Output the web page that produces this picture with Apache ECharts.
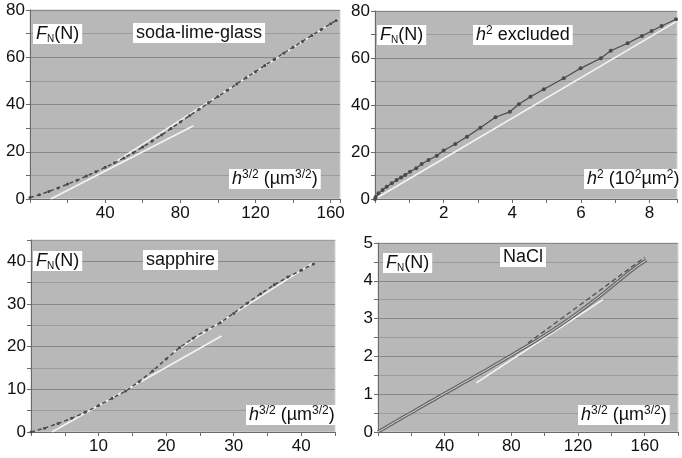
<!DOCTYPE html>
<html>
<head>
<meta charset="utf-8">
<script src="https://cdn.jsdelivr.net/npm/echarts@6/dist/echarts.min.js"></script>
<style>
  html, body { margin: 0; padding: 0; background: #fff; }
  #chart { width: 682px; height: 458px; }
</style>
</head>
<body>
<div id="chart"></div>
<script>
// soda-lime-glass, F_N against h^(3/2)
const glassH = [0, 5, 10, 15, 20, 25, 30, 35, 40, 45, 50, 55, 60, 65, 70, 75, 80, 85, 90, 95, 100, 105, 110, 115, 120, 125, 130, 135, 140, 145, 150, 155, 160, 163];
const glassF = [0.6, 1.8, 3.2, 4.7, 6.3, 7.9, 9.7, 11.5, 13.4, 15.3, 17.4, 19.6, 22.0, 24.5, 27.1, 29.8, 32.6, 35.3, 38.0, 40.7, 43.4, 46.0, 48.7, 51.3, 53.9, 56.5, 59.1, 61.7, 64.2, 66.7, 69.2, 71.7, 74.2, 75.6];
const glassFitLow = [[11, 0], [87, 31]];
const glassFitHigh = [[45, 15.5], [164, 76.2]];

// h^2 excluded, F_N against h^2
const exclH2 = [0, 0.02, 0.1, 0.22, 0.34, 0.49, 0.63, 0.76, 0.88, 1.02, 1.2, 1.36, 1.56, 1.8, 2.0, 2.34, 2.68, 3.07, 3.51, 3.93, 4.19, 4.53, 4.92, 5.5, 5.99, 6.58, 6.87, 7.36, 7.78, 8.06, 8.35, 8.77];
const exclF = [0, 0.8, 2.4, 3.8, 5.2, 6.7, 8.1, 9.2, 10.2, 11.6, 13.1, 14.9, 16.6, 18.4, 20.6, 23.4, 26.5, 30.3, 34.8, 37.1, 40.3, 43.5, 46.7, 51.4, 55.6, 59.9, 63.1, 66.3, 69.4, 71.5, 73.6, 76.5];
const exclFit = [[0, 0], [8.8, 75.7]];

// sapphire
const sapphH = [0, 2, 4, 6, 8, 10, 12, 14, 16, 18, 20, 22, 24, 26, 28, 30, 32, 34, 36, 38, 40, 41.8];
const sapphF = [0, 0.9, 2.0, 3.2, 4.6, 6.2, 7.9, 9.6, 11.8, 14.3, 17.1, 19.8, 22.0, 23.9, 25.6, 27.8, 30.2, 32.4, 34.5, 36.3, 37.9, 39.4];
const sapphFitLow = [[3.1, 0], [28.2, 22.5]];
const sapphFitHigh = [[21, 18.6], [41.8, 39.7]];

// NaCl
const naclH = [0, 5, 10, 15, 20, 25, 30, 35, 40, 45, 50, 55, 60, 65, 70, 75, 80, 85, 90, 95, 100, 105, 110, 115, 120, 125, 130, 135, 140, 145, 150, 155, 161];
const naclF = [0, 0.13, 0.26, 0.39, 0.51, 0.64, 0.77, 0.89, 1.02, 1.14, 1.27, 1.39, 1.52, 1.64, 1.77, 1.9, 2.03, 2.16, 2.29, 2.42, 2.56, 2.7, 2.85, 3.0, 3.16, 3.32, 3.49, 3.66, 3.84, 4.02, 4.2, 4.37, 4.55];
const naclFitLow = [[59, 1.3], [135, 3.5]];
const naclFitHigh = [[90, 2.35], [160, 4.62]];

const FONT = 'Liberation Sans, Arial, sans-serif';
const AXIS = '#6a6a6a';

const zip = (xs, ys) => xs.map((x, i) => [x, ys[i]]);
const isStep = (v, step) => Math.abs(v / step - Math.round(v / step)) < 1e-6;

function xAxis(idx, max, interval, labelStep) {
  return {
    type: 'value', gridIndex: idx, min: 0, max: max, interval: interval,
    axisLine: { show: true, onZero: false, lineStyle: { color: AXIS } },
    axisTick: { show: true, length: 4, lineStyle: { color: AXIS } },
    axisLabel: {
      color: '#111', fontSize: 17, fontFamily: FONT, margin: 6,
      formatter: v => (v > 0 && isStep(v, labelStep)) ? String(v) : ''
    },
    splitLine: { show: false }
  };
}

function yAxis(idx, max, interval, labelStep) {
  return {
    type: 'value', gridIndex: idx, min: 0, max: max, interval: interval,
    axisLine: { show: true, lineStyle: { color: AXIS } },
    axisTick: { show: true, length: 4, lineStyle: { color: AXIS } },
    axisLabel: {
      color: '#111', fontSize: 17, fontFamily: FONT, margin: 5,
      formatter: v => isStep(v, labelStep) ? String(v) : ''
    },
    splitLine: { show: true, lineStyle: { color: ['#888888', '#9c9c9c'], width: 1 } }
  };
}

function fit(idx, data, color, dashed) {
  return {
    type: 'line', xAxisIndex: idx, yAxisIndex: idx, data: data,
    symbol: 'none', silent: true,
    lineStyle: { color: color, width: 1.5, type: dashed ? [5, 3] : 'solid' }
  };
}

function points(idx, data, opts) {
  return Object.assign({
    type: 'line', xAxisIndex: idx, yAxisIndex: idx, data: data,
    symbol: 'circle', symbolSize: 3,
    itemStyle: { color: '#4a4a4a' },
    lineStyle: { color: '#4a4a4a', width: 1.5, type: [4, 3] }
  }, opts || {});
}

const rich = {
  i: { fontStyle: 'italic', fontSize: 18, fontFamily: FONT, lineHeight: 20 },
  s: { fontSize: 10, fontFamily: FONT, lineHeight: 11, verticalAlign: 'bottom' },
  p: { fontSize: 12, fontFamily: FONT, lineHeight: 12, verticalAlign: 'top' }
};

function label(left, top, text) {
  return {
    type: 'text', left: left, top: top, z: 100,
    style: {
      text: text, rich: rich, fontSize: 18, fontFamily: FONT, lineHeight: 20,
      fill: '#111', backgroundColor: '#fff', padding: [0, 3]
    }
  };
}

const option = {
  animation: false,
  backgroundColor: '#fff',
  grid: [
    { left: 30, top: 10, width: 310, height: 189 },
    { left: 375, top: 11, width: 302, height: 188 },
    { left: 31, top: 240, width: 304, height: 192 },
    { left: 378, top: 243, width: 300, height: 189 }
  ].map(g => Object.assign(g, { show: true, backgroundColor: '#b8b8b8', borderColor: '#d4d4d4', borderWidth: 1 })),
  xAxis: [
    xAxis(0, 165, 20, 40),
    xAxis(1, 8.8, 1, 2),
    xAxis(2, 45, 5, 10),
    xAxis(3, 180, 20, 40)
  ],
  yAxis: [
    yAxis(0, 80, 10, 20),
    yAxis(1, 80, 10, 20),
    yAxis(2, 45, 5, 10),
    yAxis(3, 5, 0.5, 1)
  ],
  series: [
    fit(0, glassFitLow, '#f4f4f4'),
    fit(0, glassFitHigh, '#f4f4f4'),
    points(0, zip(glassH, glassF)),

    fit(1, exclFit, '#f4f4f4'),
    points(1, zip(exclH2, exclF), { symbolSize: 4, lineStyle: { color: '#4a4a4a', width: 1.2 } }),

    fit(2, sapphFitLow, '#f4f4f4'),
    fit(2, sapphFitHigh, '#f4f4f4'),
    points(2, zip(sapphH, sapphF)),

    fit(3, naclFitLow, '#f4f4f4'),
    points(3, zip(naclH, naclF), { symbol: 'none', lineStyle: { color: '#6a6a6a', width: 3.5 } }),
    points(3, zip(naclH, naclF), { symbol: 'none', lineStyle: { color: '#d2d2d2', width: 1 } }),
    fit(3, naclFitHigh, '#5a5a5a', true)
  ],
  graphic: [
    label(33, 24, '{i|F}{s|N}(N)'),
    label(133, 23, 'soda-lime-glass'),
    label(229, 169, '{i|h}{p|3/2} (µm{p|3/2})'),

    label(377, 25, '{i|F}{s|N}(N)'),
    label(473, 25, '{i|h}{p|2} excluded'),
    label(584, 169, '{i|h}{p|2} (10{p|2}µm{p|2})'),

    label(33, 251, '{i|F}{s|N}(N)'),
    label(143, 250, 'sapphire'),
    label(246, 405, '{i|h}{p|3/2} (µm{p|3/2})'),

    label(383, 253, '{i|F}{s|N}(N)'),
    label(500, 247, 'NaCl'),
    label(578, 405, '{i|h}{p|3/2} (µm{p|3/2})')
  ]
};

const chart = echarts.init(document.getElementById('chart'));
chart.setOption(option);
</script>
</body>
</html>
